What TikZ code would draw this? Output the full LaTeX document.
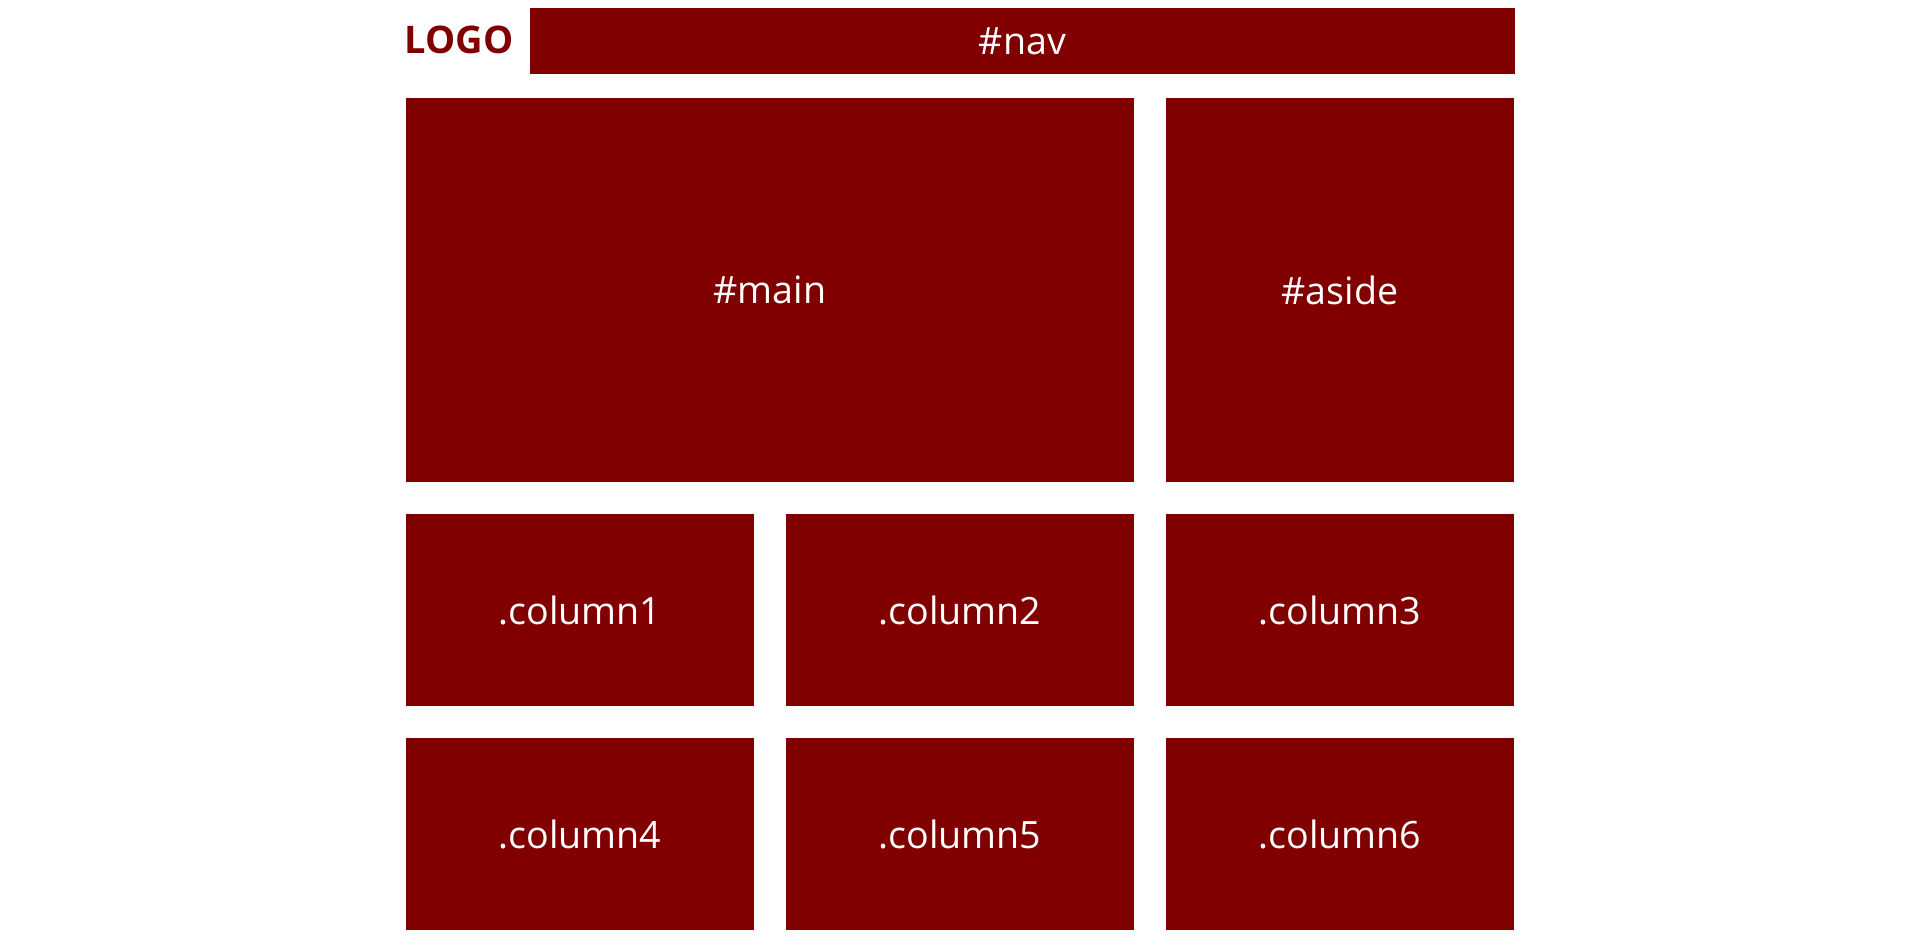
\documentclass[tikz,border=0pt]{standalone}
\usepackage{fontspec}
\setmainfont{Open Sans}
\definecolor{maroon}{HTML}{800000}
\begin{document}
\begin{tikzpicture}[x=0.5pt,y=-0.5pt,
  box/.style={fill=maroon,draw=none,inner sep=0pt,text=white,font=\fontsize{18.8}{22}\selectfont,anchor=center},
  logotext/.style={text=maroon,font=\fontsize{19}{22}\selectfont\bfseries,inner sep=0pt,anchor=base}]
\useasboundingbox (0,0) rectangle (1920,947);
\node[logotext] (logo) at (459,54) {LOGO};
\node[box,minimum width=492.5pt,minimum height=33pt] (nav) at (1022.5,41) {\#nav};
\node[box,minimum width=364pt,minimum height=192pt] (main) at (770,290) {\#main};
\node[box,minimum width=174pt,minimum height=192pt] (aside) at (1340,290) {\#aside};
\node[box,minimum width=174pt,minimum height=96pt] (c1) at (580,610) {.column1};
\node[box,minimum width=174pt,minimum height=96pt] (c2) at (960,610) {.column2};
\node[box,minimum width=174pt,minimum height=96pt] (c3) at (1340,610) {.column3};
\node[box,minimum width=174pt,minimum height=96pt] (c4) at (580,834) {.column4};
\node[box,minimum width=174pt,minimum height=96pt] (c5) at (960,834) {.column5};
\node[box,minimum width=174pt,minimum height=96pt] (c6) at (1340,834) {.column6};
\end{tikzpicture}
\end{document}
